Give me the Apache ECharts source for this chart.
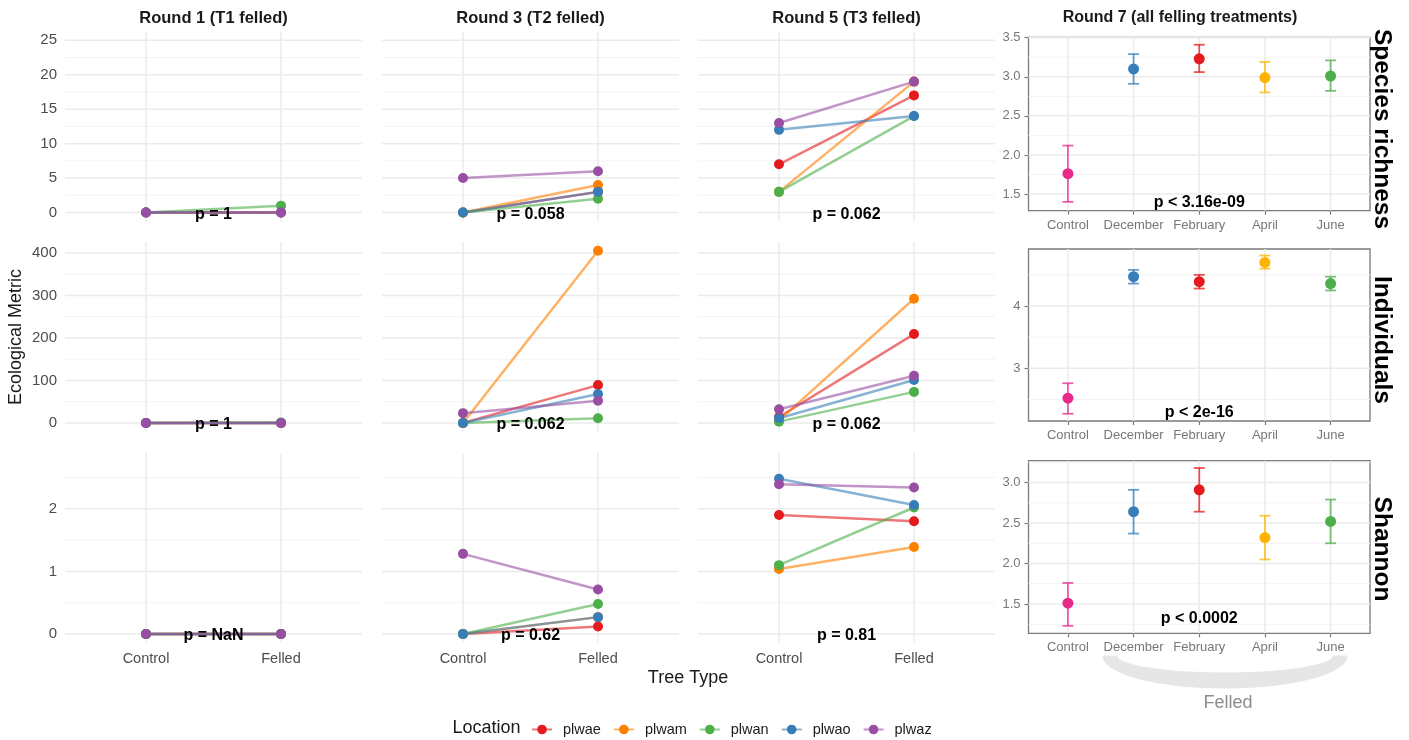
<!DOCTYPE html>
<html><head><meta charset="utf-8">
<script src="https://cdn.jsdelivr.net/npm/echarts@6/dist/echarts.min.js"></script>
<style>html,body{margin:0;padding:0;background:#fff}#c{width:1409px;height:740px}</style>
</head><body><div id="c"></div>
<script>
// ---------------- DATA ----------------
const locations = ['plwae', 'plwam', 'plwan', 'plwao', 'plwaz'];
const locationColors = ['#E41A1C', '#FF7F00', '#4DAF4A', '#377EB8', '#984EA3'];
const treeTypes = ['Control', 'Felled'];
const roundTitles = ['Round 1 (T1 felled)', 'Round 3 (T2 felled)', 'Round 5 (T3 felled)'];
const round7Title = 'Round 7 (all felling treatments)';
const metrics = ['Species richness', 'Individuals', 'Shannon'];

// values in location order: plwae, plwam, plwan, plwao, plwaz
const richnessR1Control = [0, 0, 0, 0, 0];
const richnessR1Felled  = [0, 0, 1, 0, 0];
const richnessR3Control = [0, 0, 0, 0, 5];
const richnessR3Felled  = [3, 4, 2, 3, 6];
const richnessR5Control = [7, 3, 3, 12, 13];
const richnessR5Felled  = [17, 19, 14, 14, 19];

const individualsR1Control = [0, 0, 0, 0, 0];
const individualsR1Felled  = [0, 0, 1, 0, 0];
const individualsR3Control = [0, 0, 0, 0, 23];
const individualsR3Felled  = [89, 405, 11, 68, 52];
const individualsR5Control = [14, 6, 3, 11, 32];
const individualsR5Felled  = [209, 292, 73, 101, 111];

const shannonR1Control = [0, 0, 0, 0, 0];
const shannonR1Felled  = [0, 0, 0, 0, 0];
const shannonR3Control = [0, 0, 0, 0, 1.28];
const shannonR3Felled  = [0.12, 0.27, 0.48, 0.27, 0.71];
const shannonR5Control = [1.90, 1.04, 1.10, 2.48, 2.39];
const shannonR5Felled  = [1.80, 1.39, 2.02, 2.06, 2.34];

const richnessP    = ['p = 1', 'p = 0.058', 'p = 0.062'];
const individualsP = ['p = 1', 'p = 0.062', 'p = 0.062'];
const shannonP     = ['p = NaN', 'p = 0.62', 'p = 0.81'];

const richnessTicks = [0, 5, 10, 15, 20, 25];
const richnessMinor = [2.5, 7.5, 12.5, 17.5, 22.5];
const individualsTicks = [0, 100, 200, 300, 400];
const individualsMinor = [50, 150, 250, 350];
const shannonTicks = [0, 1, 2];
const shannonMinor = [0.5, 1.5, 2.5];

// Round 7 (mean with error bars)
const months = ['Control', 'December', 'February', 'April', 'June'];
const monthColors = ['#E7298A', '#377EB8', '#E41A1C', '#FFB300', '#4DAF4A'];
const r7RichnessMean = [1.76, 3.10, 3.23, 2.99, 3.01];
const r7RichnessLow  = [1.40, 2.91, 3.06, 2.80, 2.82];
const r7RichnessHigh = [2.12, 3.29, 3.41, 3.19, 3.21];
const r7IndividualsMean = [2.52, 4.47, 4.39, 4.70, 4.36];
const r7IndividualsLow  = [2.27, 4.36, 4.28, 4.60, 4.25];
const r7IndividualsHigh = [2.76, 4.58, 4.50, 4.81, 4.47];
const r7ShannonMean = [1.51, 2.64, 2.91, 2.32, 2.52];
const r7ShannonLow  = [1.23, 2.37, 2.64, 2.05, 2.25];
const r7ShannonHigh = [1.76, 2.91, 3.18, 2.59, 2.79];
const r7P = ['p < 3.16e-09', 'p < 2e-16', 'p < 0.0002'];

const r7RichnessTicks = [1.5, 2.0, 2.5, 3.0, 3.5];
const r7RichnessMinor = [1.75, 2.25, 2.75, 3.25];
const r7IndividualsTicks = [3, 4];
const r7IndividualsMinor = [2.5, 3.5, 4.5];
const r7ShannonTicks = [1.5, 2.0, 2.5, 3.0];
const r7ShannonMinor = [1.25, 1.75, 2.25, 2.75, 3.25];

// ---------------- tables built from the arrays ----------------
const leftControl = [
  [richnessR1Control, richnessR3Control, richnessR5Control],
  [individualsR1Control, individualsR3Control, individualsR5Control],
  [shannonR1Control, shannonR3Control, shannonR5Control]
];
const leftFelled = [
  [richnessR1Felled, richnessR3Felled, richnessR5Felled],
  [individualsR1Felled, individualsR3Felled, individualsR5Felled],
  [shannonR1Felled, shannonR3Felled, shannonR5Felled]
];
const leftP = [richnessP, individualsP, shannonP];
const leftTicks = [richnessTicks, individualsTicks, shannonTicks];
const leftMinor = [richnessMinor, individualsMinor, shannonMinor];
const r7Mean = [r7RichnessMean, r7IndividualsMean, r7ShannonMean];
const r7Low = [r7RichnessLow, r7IndividualsLow, r7ShannonLow];
const r7High = [r7RichnessHigh, r7IndividualsHigh, r7ShannonHigh];
const r7Ticks = [r7RichnessTicks, r7IndividualsTicks, r7ShannonTicks];
const r7Minor = [r7RichnessMinor, r7IndividualsMinor, r7ShannonMinor];

// ---------------- layout ----------------
const FONT = 'Liberation Sans, Arial, Helvetica, sans-serif';
const colLeft = [65, 382, 698];
const colWidth = 297;
const rowTop = [32, 242, 453];
const rowHeight = 189.5;
const leftYRange = [[-1.3, 26.2], [-20.2, 425.6], [-0.135, 2.89]];
const leftXRange = [0.4, 2.6];
const rLeft = 1028.5, rWidth = 341.5;
const rTop = [37.3, 249, 460.7];
const rHeight = [173.4, 172, 172.6];
const rYRange = [[1.287, 3.505], [2.154, 4.915], [1.138, 3.27]];
const rXRange = [0.4, 5.6];
const r7PY = [1.42, 2.315, 1.34];
const r7LabelDigits = [1, 0, 1];

function rgba(hex, a) {
  const n = parseInt(hex.slice(1), 16);
  return 'rgba(' + ((n >> 16) & 255) + ',' + ((n >> 8) & 255) + ',' + (n & 255) + ',' + a + ')';
}

const grids = [], xAxes = [], yAxes = [], series = [];

function gridLineSeries(gi, xr, yr, hMajor, hMinor, vMajor) {
  const data = [];
  hMinor.forEach(v => data.push([0, v, 0]));
  hMajor.forEach(v => data.push([0, v, 1]));
  vMajor.forEach(v => data.push([1, v, 1]));
  return {
    type: 'custom', xAxisIndex: gi, yAxisIndex: gi, z: 1, silent: true,
    data: data,
    renderItem: function (params, api) {
      const o = api.value(0), v = api.value(1), major = api.value(2);
      let p1, p2;
      if (o === 0) { p1 = api.coord([xr[0], v]); p2 = api.coord([xr[1], v]); }
      else { p1 = api.coord([v, yr[0]]); p2 = api.coord([v, yr[1]]); }
      return {
        type: 'line',
        shape: { x1: p1[0], y1: p1[1], x2: p2[0], y2: p2[1] },
        style: { stroke: major ? '#EBEBEB' : '#F3F3F3', lineWidth: major ? 1.5 : 1 }
      };
    }
  };
}

function pLabelSeries(gi, x, y, text) {
  return {
    type: 'scatter', xAxisIndex: gi, yAxisIndex: gi, z: 10, silent: true,
    symbolSize: 1, itemStyle: { color: 'rgba(0,0,0,0)' },
    data: [[x, y]],
    label: {
      show: true, position: 'inside', offset: [0, 2], formatter: () => text,
      fontSize: 16, fontWeight: 'bold', color: '#000', fontFamily: FONT, opacity: 1
    }
  };
}

// Left 3x3 panels
for (let r = 0; r < 3; r++) {
  for (let c = 0; c < 3; c++) {
    const gi = grids.length;
    grids.push({ left: colLeft[c], top: rowTop[r], width: colWidth, height: rowHeight, show: false });
    xAxes.push({
      type: 'value', gridIndex: gi, min: leftXRange[0], max: leftXRange[1],
      axisLine: { show: false }, axisTick: { show: false }, splitLine: { show: false },
      axisLabel: {
        show: r === 2, customValues: [1, 2], formatter: v => treeTypes[Math.round(v) - 1],
        color: '#4D4D4D', fontSize: 14.5, margin: 9, fontFamily: FONT
      }
    });
    yAxes.push({
      type: 'value', gridIndex: gi, min: leftYRange[r][0], max: leftYRange[r][1],
      axisLine: { show: false }, axisTick: { show: false }, splitLine: { show: false },
      axisLabel: {
        show: c === 0, customValues: leftTicks[r], formatter: v => String(v),
        color: '#4D4D4D', fontSize: 15, margin: 8, fontFamily: FONT
      }
    });
    series.push(gridLineSeries(gi, leftXRange, leftYRange[r], leftTicks[r], leftMinor[r], [1, 2]));
    locations.forEach((loc, k) => {
      series.push({
        name: loc, type: 'line', xAxisIndex: gi, yAxisIndex: gi, z: 2, silent: true,
        symbol: 'circle', symbolSize: 10, showSymbol: false,
        lineStyle: { color: rgba(locationColors[k], 0.6), width: 2.5 },
        itemStyle: { color: locationColors[k] },
        data: [[1, leftControl[r][c][k]], [2, leftFelled[r][c][k]]]
      });
    });
    locations.forEach((loc, k) => {
      series.push({
        name: loc, type: 'scatter', xAxisIndex: gi, yAxisIndex: gi, z: 3, silent: true,
        symbol: 'circle', symbolSize: 10,
        itemStyle: { color: locationColors[k], opacity: 1 },
        data: [[1, leftControl[r][c][k]], [2, leftFelled[r][c][k]]]
      });
    });
    series.push(pLabelSeries(gi, 1.5, 0, leftP[r][c]));
  }
}

// Right column (Round 7)
for (let r = 0; r < 3; r++) {
  const gi = grids.length;
  grids.push({ left: rLeft, top: rTop[r], width: rWidth, height: rHeight[r], show: true,
    borderColor: '#7a7a7a', borderWidth: 1.3, backgroundColor: 'rgba(0,0,0,0)' });
  const monthPos = months.map((m, i) => i + 1);
  xAxes.push({
    type: 'value', gridIndex: gi, min: rXRange[0], max: rXRange[1],
    axisLine: { show: false }, splitLine: { show: false },
    axisTick: { show: true, customValues: monthPos, length: 4, lineStyle: { color: '#7a7a7a', width: 1.2 } },
    axisLabel: { customValues: monthPos, formatter: v => months[Math.round(v) - 1],
      color: '#777', fontSize: 13, margin: 8, fontFamily: FONT }
  });
  yAxes.push({
    type: 'value', gridIndex: gi, min: rYRange[r][0], max: rYRange[r][1],
    axisLine: { show: false }, splitLine: { show: false },
    axisTick: { show: true, customValues: r7Ticks[r], length: 4, lineStyle: { color: '#7a7a7a', width: 1.2 } },
    axisLabel: { customValues: r7Ticks[r], formatter: v => v.toFixed(r7LabelDigits[r]),
      color: '#777', fontSize: 13, margin: 8, fontFamily: FONT }
  });
  series.push(gridLineSeries(gi, rXRange, rYRange[r], r7Ticks[r], r7Minor[r], monthPos));
  series.push({
    type: 'custom', xAxisIndex: gi, yAxisIndex: gi, z: 3, silent: true,
    encode: { x: 0, y: [1, 2] },
    data: months.map((m, i) => [i + 1, r7Low[r][i], r7High[r][i]]),
    renderItem: function (params, api) {
      const x = api.value(0);
      const pLo = api.coord([x, api.value(1)]);
      const pHi = api.coord([x, api.value(2)]);
      const col = rgba(monthColors[params.dataIndex], 0.75);
      const hw = 5.5;
      const st = { stroke: col, lineWidth: 1.8 };
      return {
        type: 'group', children: [
          { type: 'line', shape: { x1: pLo[0], y1: pLo[1], x2: pHi[0], y2: pHi[1] }, style: st },
          { type: 'line', shape: { x1: pLo[0] - hw, y1: pLo[1], x2: pLo[0] + hw, y2: pLo[1] }, style: st },
          { type: 'line', shape: { x1: pHi[0] - hw, y1: pHi[1], x2: pHi[0] + hw, y2: pHi[1] }, style: st }
        ]
      };
    }
  });
  series.push({
    type: 'scatter', xAxisIndex: gi, yAxisIndex: gi, z: 4, silent: true, symbolSize: 11,
    data: months.map((m, i) => ({ value: [i + 1, r7Mean[r][i]], itemStyle: { color: monthColors[i], opacity: 1 } }))
  });
  series.push(pLabelSeries(gi, 3, r7PY[r], r7P[r]));
}

// ---------------- text / decoration ----------------
const graphics = [];
function txt(x, y, text, font, fill, rotation) {
  graphics.push({
    type: 'text', x: x, y: y, rotation: rotation || 0, silent: true, z: 20,
    style: { text: text, font: font, fill: fill, textAlign: 'center', textVerticalAlign: 'middle',
      align: 'center', verticalAlign: 'middle' }
  });
}
roundTitles.forEach((t, c) => txt(colLeft[c] + colWidth / 2, 18, t, 'bold 16.5px ' + FONT, '#1a1a1a'));
txt(1180, 18, round7Title, 'bold 16px ' + FONT, '#1a1a1a');
const stripY = [129, 340, 549];
metrics.forEach((m, r) => txt(1382, stripY[r], m, 'bold 24.5px ' + FONT, '#000', -Math.PI / 2));
txt(16.5, 337, 'Ecological Metric', '18px ' + FONT, '#1a1a1a', Math.PI / 2);
txt(688, 678, 'Tree Type', '18px ' + FONT, '#1a1a1a');
graphics.push({
  type: 'text', x: 452.5, y: 728, silent: true,
  style: { text: 'Location', font: '18px ' + FONT, fill: '#1a1a1a', textAlign: 'left', textVerticalAlign: 'middle',
    align: 'left', verticalAlign: 'middle' }
});
// "Felled" brace: crescent between two half-ellipses (decoration)
(function () {
  const cx = 1225, cy = 656, pts = [];
  const N = 40;
  for (let i = 0; i <= N; i++) {
    const t = Math.PI * i / N;
    pts.push([cx - 122 * Math.cos(t), cy + 32 * Math.sin(t)]);
  }
  for (let i = N; i >= 0; i--) {
    const t = Math.PI * i / N;
    pts.push([cx - 108 * Math.cos(t), cy + 17 * Math.sin(t)]);
  }
  graphics.push({ type: 'polygon', silent: true, z: 0, shape: { points: pts },
    style: { fill: '#E6E6E6', stroke: '#E6E6E6', lineWidth: 1 } });
})();
txt(1228, 703, 'Felled', '18px ' + FONT, '#8c8c8c');

const chart = echarts.init(document.getElementById('c'), null, { renderer: 'canvas' });
chart.setOption({
  animation: false,
  backgroundColor: '#fff',
  textStyle: { fontFamily: FONT },
  grid: grids,
  xAxis: xAxes,
  yAxis: yAxes,
  legend: {
    data: locations, left: 531, top: 722, padding: 0, itemWidth: 20, itemHeight: 12, itemGap: 12,
    selectedMode: false,
    textStyle: { fontSize: 14.5, color: '#1a1a1a', padding: [0, 0, 0, 6], fontFamily: FONT }
  },
  graphic: graphics,
  series: series
});
</script>
</body></html>
